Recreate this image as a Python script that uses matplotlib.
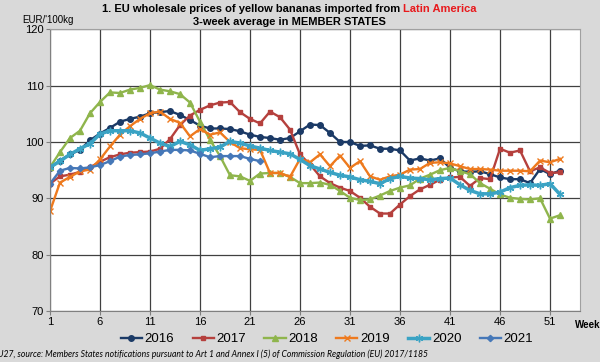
import numpy as np
import matplotlib
matplotlib.use("Agg")
import matplotlib.pyplot as plt

plt.rcParams['font.family'] = ['Liberation Sans', 'DejaVu Sans']

# Недельные цены, EUR/100kg (средние за 3 недели)
y2016 = [95.4, 96.7, 97.8, 98.6, 100.3, 101.5, 102.5, 103.6, 104.1, 104.5, 105.1, 105.3, 105.5,
         104.8, 103.9, 102.9, 102.4, 102.4, 102.3, 101.9, 101.3, 100.9, 100.7, 100.4, 100.7, 101.9,
         103.1, 103.0, 101.6, 100.0, 100.0, 99.3, 99.4, 98.8, 98.8, 98.5, 96.7, 97.1, 96.7, 97.1,
         95.4, 94.8, 94.7, 94.8, 94.3, 93.7, 93.4, 93.4, 92.7, 95.2, 94.3, 94.9]
y2017 = [92.6, 93.9, 94.2, 94.7, 95.5, 96.5, 97.3, 97.8, 98.1, 98.2, 98.3, 98.8, 100.5,
         103.0, 104.7, 105.7, 106.5, 107.0, 107.1, 105.3, 104.1, 103.3, 105.4, 104.4, 102.2, 97.8,
         96.0, 93.9, 92.7, 91.9, 91.3, 90.1, 88.5, 87.3, 87.3, 88.9, 90.4, 91.6, 92.4, 93.3,
         93.7, 93.8, 92.2, 93.6, 93.4, 98.8, 98.1, 98.5, 94.8, 95.5, 94.5, 94.6]
y2018 = [95.5, 98.2, 100.7, 102.0, 105.1, 107.1, 108.8, 108.7, 109.3, 109.6, 110.1, 109.3, 109.0,
         108.5, 107.0, 103.6, 100.4, 97.5, 94.1, 93.9, 93.1, 94.4, 94.5, 94.5, 93.8, 92.7,
         92.7, 92.8, 92.4, 91.3, 90.1, 89.7, 89.8, 90.5, 91.3, 91.9, 92.3, 93.5, 94.2, 95.0,
         95.4, 94.8, 94.3, 92.7, 91.7, 90.7, 90.1, 89.9, 89.8, 90.0, 86.4, 87.0]
y2019 = [87.7, 92.8, 93.8, 94.8, 95.1, 96.9, 99.2, 101.3, 102.8, 104.1, 105.1, 105.4, 104.1,
         103.4, 101.0, 102.3, 101.3, 101.7, 100.0, 98.9, 98.7, 98.6, 94.5, 94.5, 93.8, 97.0,
         96.4, 97.8, 95.7, 97.6, 95.4, 96.6, 93.9, 93.3, 93.9, 94.2, 95.1, 95.2, 96.3, 96.4,
         96.2, 95.7, 95.2, 95.2, 95.1, 94.9, 94.9, 94.9, 94.8, 96.7, 96.4, 97.0]
y2020 = [95.5, 96.6, 97.8, 98.8, 99.7, 101.4, 102.0, 102.0, 102.0, 101.6, 100.7, 99.8, 99.2,
         100.1, 99.5, 98.5, 98.8, 99.1, 100.1, 99.8, 99.3, 98.9, 98.5, 98.2, 97.9, 96.9,
         95.8, 95.2, 94.6, 94.1, 93.8, 93.3, 93.0, 92.6, 93.5, 93.9, 93.6, 93.5, 93.3, 93.5,
         93.6, 92.4, 91.4, 90.8, 90.8, 91.1, 91.9, 92.3, 92.4, 92.3, 92.6, 90.7]
y2021 = [92.6, 94.9, 95.4, 95.3, 95.5, 95.9, 96.6, 97.4, 97.7, 97.8, 98.0, 98.3, 98.6,
         98.6, 98.5, 97.9, 97.3, 97.5, 97.5, 97.5, 97.0, 96.6]

years = ['2016', '2017', '2018', '2019', '2020', '2021']
series = [y2016, y2017, y2018, y2019, y2020, y2021]
colors = ['#1b3a66', '#b5403d', '#8fb54c', '#ee7a1e', '#3aa3c4', '#4678b8']
markers = ['o', 's', '^', 'x', (6, 2, 0), 'D']
msizes = [4, 3.2, 4.5, 4.5, 5.5, 3.2]
lwidths = [1.7, 1.7, 1.7, 1.7, 2.5, 1.7]

fig = plt.figure(figsize=(6, 3.62), dpi=100, facecolor='#d9d9d9')
ax = fig.add_axes([0.0833, 0.1409, 0.8834, 0.7781])
ax.set_facecolor('white')

for yr, vals, c, m, ms, lw in zip(years, series, colors, markers, msizes, lwidths):
    weeks = np.arange(1, len(vals) + 1)
    ax.plot(weeks, vals, color=c, marker=m, markersize=ms, lw=lw,
            markeredgewidth=1.0, label=yr)

ax.set_xlim(1, 54)
ax.set_ylim(70, 120)
ax.set_xticks(np.arange(1, 52, 5))
ax.set_yticks(np.arange(70, 121, 10))
ax.grid(True, color='#404040', lw=0.9)
ax.set_axisbelow(True)
ax.tick_params(labelsize=8, length=3, width=0.8, color='#808080', pad=1.5)
for s in ['left', 'bottom']:
    ax.spines[s].set_color('#808080')
for s in ['top', 'right']:
    ax.spines[s].set_color('#a0a0a0')

fig.text(575 / 600, 1 - 325 / 362, 'Week', fontsize=7, fontweight='bold', va='center')
fig.text(22 / 600, 1 - 20 / 362, "EUR/'100kg", fontsize=7, va='center')

# Заголовок: чёрная часть + красная
t1 = fig.text(0, 1 - 9 / 362, '1. EU wholesale prices of yellow bananas imported from ',
              fontsize=8, fontweight='bold', va='center', ha='left')
t2 = fig.text(0, 1 - 9 / 362, 'Latin America', fontsize=8, fontweight='bold',
              color='#e8191c', va='center', ha='left')
fig.canvas.draw()
r = fig.canvas.get_renderer()
w1 = t1.get_window_extent(r).width
w2 = t2.get_window_extent(r).width
x0 = 289 - (w1 + w2) / 2
t1.set_x(x0 / 600)
t2.set_x((x0 + w1) / 600)
fig.text(289 / 600, 1 - 22 / 362, '3-week average in MEMBER STATES', fontsize=8,
         fontweight='bold', va='center', ha='center')

fig.legend(loc='center', bbox_to_anchor=(327 / 600, 1 - 339 / 362), ncol=6, frameon=False,
           fontsize=9.5, handlelength=1.6, handletextpad=0.2, columnspacing=1.4,
           borderaxespad=0)

fig.text(-0.012, 1 - 354 / 362,
         'EU27, source: Members States notifications pursuant to Art 1 and Annex I (5) '
         'of Commission Regulation (EU) 2017/1185',
         fontsize=6.2, style='italic', family=['Lato', 'DejaVu Sans'], va='center', ha='left')

fig.savefig('out.png', dpi=100, facecolor=fig.get_facecolor())
